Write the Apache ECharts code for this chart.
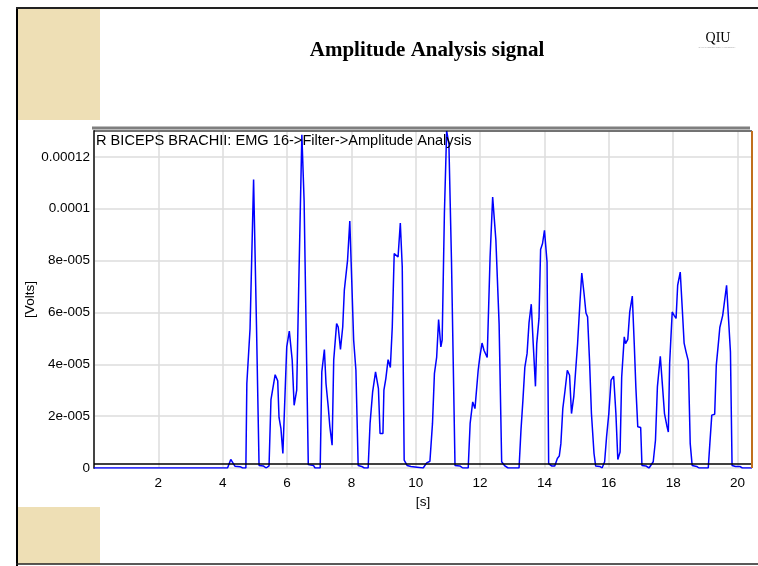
<!DOCTYPE html>
<html>
<head>
<meta charset="utf-8">
<title>Amplitude Analysis signal</title>
<script src="https://cdn.jsdelivr.net/npm/echarts@6.0.0/dist/echarts.min.js"></script>
<style>
html, body { margin: 0; padding: 0; background: #fff; }
#container { width: 758px; height: 566px; }
</style>
</head>
<body>
<div id="container"></div>
<script>
/* Amplitude Analysis signal - EMG amplitude */
// time in seconds
var timeS = [0, 4.15, 4.25, 4.38, 4.54, 4.62, 4.72, 4.75, 4.85, 4.96, 5.05, 5.13, 5.26, 5.35, 5.44,
	5.50, 5.63, 5.71, 5.75, 5.81, 5.87, 5.99, 6.07, 6.16, 6.22, 6.30, 6.36, 6.46, 6.53, 6.61, 6.66,
	6.82, 6.87, 7.03, 7.08, 7.16, 7.21, 7.28, 7.33, 7.40, 7.45, 7.54, 7.59, 7.66, 7.73, 7.78, 7.82,
	7.88, 7.95, 8.01, 8.07, 8.14, 8.21, 8.32, 8.40, 8.52, 8.58, 8.66, 8.75, 8.84, 8.89, 8.98, 9.01,
	9.07, 9.14, 9.21, 9.27, 9.33, 9.39, 9.45, 9.52, 9.58, 9.64, 9.73, 9.85, 9.90, 10.23, 10.34, 10.44,
	10.52, 10.58, 10.65, 10.71, 10.78, 10.82, 10.89, 10.96, 11.03, 11.11, 11.22, 11.37, 11.46, 11.63,
	11.69, 11.77, 11.84, 11.89, 11.94, 11.99, 12.06, 12.12, 12.22, 12.31, 12.39, 12.49, 12.59, 12.67,
	12.77, 12.87, 13.21, 13.27, 13.33, 13.39, 13.46, 13.52, 13.59, 13.65, 13.72, 13.76, 13.83, 13.88,
	13.94, 14.00, 14.08, 14.13, 14.22, 14.32, 14.40, 14.46, 14.51, 14.57, 14.64, 14.71, 14.78, 14.84,
	14.91, 14.97, 15.03, 15.10, 15.16, 15.23, 15.29, 15.34, 15.40, 15.46, 15.54, 15.59, 15.72, 15.79,
	15.87, 15.93, 16.00, 16.07, 16.15, 16.22, 16.28, 16.35, 16.40, 16.48, 16.52, 16.59, 16.65, 16.73,
	16.79, 16.84, 16.90, 16.99, 17.03, 17.15, 17.25, 17.38, 17.45, 17.51, 17.60, 17.67, 17.73, 17.80,
	17.85, 17.89, 17.97, 18.03, 18.09, 18.14, 18.22, 18.28, 18.34, 18.40, 18.47, 18.53, 18.59, 18.73,
	18.80, 19.09, 19.14, 19.20, 19.29, 19.34, 19.40, 19.45, 19.54, 19.59, 19.66, 19.71, 19.78, 19.83,
	19.94, 20.07, 20.15, 20.45];
// amplitude in units of 1e-5 V
var ampE5 = [0, 0, 0.33, 0.07, 0.05, 0, 0, 3.26, 5.38, 11.13, 5.5, 0.1, 0.08, 0, 0.08,
	2.64, 3.6, 3.36, 1.95, 1.52, 0.56, 4.67, 5.28, 4.16, 2.42, 3.0, 6.86, 12.85, 10.3, 4.0, 0.13,
	0.1, 0, 0, 3.71, 4.57, 3.26, 2.36, 1.59, 0.88, 4.16, 5.57, 5.44, 4.57, 5.44, 6.86, 6.82,
	8.01, 9.53, 7.24, 4.93, 3.77, 0.1, 0.06, 0, 0, 1.72, 2.94, 3.71, 3.06, 1.33, 1.33, 3.0,
	3.45, 4.18, 3.88, 5.44, 8.27, 8.3, 8.14, 9.45, 7.76, 0.3, 0.1, 0.06, 0, 0, 0.2, 0.26,
	1.72, 3.64, 4.28, 5.73, 4.67, 4.93, 9.81, 13.0, 12.5, 8.01, 0.1, 0.08, 0, 0,
	1.72, 2.55, 2.29, 2.23, 3.77, 4.28, 4.82, 4.54, 4.26, 8.14, 10.45, 8.79, 5.57, 0.24,
	0.08, 0, 0, 1.46, 2.61, 3.88, 4.42, 5.6, 6.32, 4.8, 3.15, 4.8, 5.77, 8.43,
	8.66, 9.17, 7.95, 0.17, 0.08, 0.08, 0.37, 0.46, 0.94, 2.29, 3.0, 3.77, 3.58, 2.1,
	2.74, 3.77, 4.8, 6.34, 7.52, 6.73, 5.98, 5.83, 4.16, 2.1, 0.56, 0.08, 0.06, 0,
	0.24, 1.2, 2.1, 3.39, 3.54, 2.1, 0.33, 0.62, 3.51, 5.06, 4.8, 4.96, 6.02, 6.63,
	4.8, 3.13, 1.59, 1.56, 0.1, 0.08, 0, 0.24, 1.07, 3.13, 4.31, 3.13, 2.1, 1.65,
	1.39, 4.03, 6.02, 5.89, 5.77, 7.05, 7.56, 6.21, 4.82, 4.48, 4.13, 0.94, 0.1, 0.06,
	0, 0, 0.94, 2.04, 2.07, 3.96, 4.74, 5.42, 5.89, 5.93, 7.05, 7.05, 4.48, 0.1,
	0.06, 0.06, 0, 0];
// tick labels
var xTickLabels = { 2: '2', 4: '4', 6: '6', 8: '8', 10: '10', 12: '12', 14: '14', 16: '16', 18: '18', 20: '20' };
var yTickLabels = { 0: '0', 2: '2e-005', 4: '4e-005', 6: '6e-005', 8: '8e-005', 10: '0.0001', 12: '0.00012' };
// black reference line level (1e-5 V)
var refLevel = [0.147];

var dom = document.getElementById("container");
var myChart = echarts.init(dom, null, { renderer: 'canvas' });
var option;

var lineData = timeS.map(function(t, i) {
	return [t, ampE5[i]];
});

option = {
	backgroundColor: '#fff',
	animation: false,
	textStyle: {
		fontFamily: 'Liberation Sans'
	},
	grid: {
		left: 94,
		right: 6,
		top: 131,
		bottom: 98
	},
	xAxis: {
		type: 'value',
		min: 0,
		max: 20.45,
		interval: 2,
		name: '[s]',
		nameLocation: 'middle',
		nameGap: 22,
		nameTextStyle: {
			color: '#000',
			fontSize: 13.5
		},
		axisLine: { show: false },
		axisTick: { show: false },
		axisLabel: {
			color: '#000',
			fontSize: 13.5,
			margin: 8,
			formatter: function(v) {
				return xTickLabels[Math.round(v * 100) / 100] || '';
			}
		},
		splitLine: {
			show: true,
			lineStyle: { color: '#dcdcdc', width: 1.5 }
		}
	},
	yAxis: {
		type: 'value',
		min: 0,
		max: 13,
		interval: 2,
		name: '[Volts]',
		nameLocation: 'middle',
		nameMoveOverlap: false,
		nameGap: 57,
		nameTextStyle: {
			color: '#000',
			fontSize: 13.5
		},
		axisLine: {
			show: true,
			lineStyle: { color: '#444', width: 2 }
		},
		axisTick: { show: false },
		axisLabel: {
			color: '#000',
			fontSize: 13.5,
			margin: 4,
			formatter: function(v) {
				var s = yTickLabels[Math.round(v * 100) / 100];
				return s === undefined ? '' : s;
			}
		},
		splitLine: {
			show: true,
			lineStyle: { color: '#dcdcdc', width: 1.5 }
		}
	},
	series: [{
		name: 'R BICEPS BRACHII: EMG 16->Filter->Amplitude Analysis',
		type: 'line',
		data: lineData,
		showSymbol: false,
		symbol: 'none',
		lineStyle: { color: '#0000ff', width: 1.5 },
		markLine: {
			silent: true,
			symbol: 'none',
			label: { show: false },
			lineStyle: { color: '#000', width: 1.5, type: 'solid' },
			data: refLevel.map(function(v) {
				return { yAxis: v };
			})
		}
	}],
	graphic: [
		// texture blocks at left edge of slide
		{ type: 'rect', shape: { x: 18, y: 9, width: 82, height: 111 }, style: { fill: '#eedfb5' }, z: 0 },
		{ type: 'rect', shape: { x: 18, y: 507, width: 82, height: 57 }, style: { fill: '#eedfb5' }, z: 0 },
		// slide frame
		{ type: 'line', shape: { x1: 17, y1: 7, x2: 17, y2: 566 }, style: { stroke: '#000', lineWidth: 2 } },
		{ type: 'line', shape: { x1: 16, y1: 8, x2: 758, y2: 8 }, style: { stroke: '#222', lineWidth: 2 } },
		{ type: 'line', shape: { x1: 16, y1: 564, x2: 758, y2: 564 }, style: { stroke: '#222', lineWidth: 1.5 } },
		// plot frame
		{ type: 'line', shape: { x1: 92, y1: 128, x2: 750, y2: 128 }, style: { stroke: '#7f7f7f', lineWidth: 3 }, z: 10 },
		{ type: 'line', shape: { x1: 94, y1: 131, x2: 752, y2: 131 }, style: { stroke: '#000', lineWidth: 1 }, z: 10 },
		{ type: 'line', shape: { x1: 752, y1: 131, x2: 752, y2: 468 }, style: { stroke: '#c0701e', lineWidth: 2 }, z: 10 },
		// titles
		{
			type: 'text', x: 427, y: 51,
			style: { text: 'Amplitude Analysis signal', font: 'bold 21px "Liberation Serif"', fill: '#000', align: 'center', verticalAlign: 'middle' }
		},
		{
			type: 'text', x: 718, y: 38,
			style: { text: 'QIU', font: '14px "Liberation Serif"', fill: '#000', align: 'center', verticalAlign: 'middle' }
		},
		{
			type: 'text', x: 717, y: 47,
			style: { text: 'QAIWAN INTERNATIONAL UNIVERSITY', font: '2px "Liberation Sans"', fill: '#999', align: 'center', verticalAlign: 'middle' }
		},
		{
			type: 'text', x: 96, y: 141, z: 20,
			style: { text: 'R BICEPS BRACHII: EMG 16->Filter->Amplitude Analysis', font: '14.6px "Liberation Sans"', fill: '#000', verticalAlign: 'middle' }
		}
	]
};

if (option && typeof option === "object") {
	myChart.setOption(option, true);
}
</script>
</body>
</html>
